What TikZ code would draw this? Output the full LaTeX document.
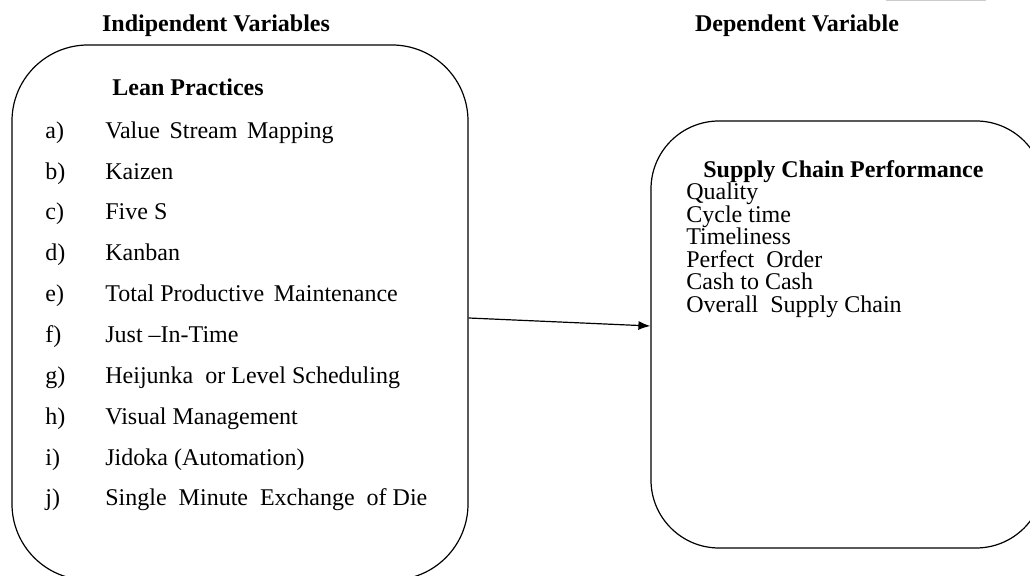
\documentclass[tikz,border=0pt]{standalone}
\usepackage{fontspec}
\setmainfont{Liberation Serif}
\usetikzlibrary{arrows.meta}
\tikzset{
  txt/.style={font=\fontsize{12}{14}\selectfont, inner sep=0pt},
  head/.style={txt, font=\fontsize{12}{14}\selectfont\bfseries},
  bigbox/.style={draw, line width=0.6pt}
}
\newcommand{\wsp}{\hspace{1.75pt}}
\begin{document}
\begin{tikzpicture}[x=0.5pt,y=-0.5pt]
            \useasboundingbox (0,0) rectangle (1030,576);
            \clip (0,0) rectangle (1030,576);
            \draw[gray!40, line width=0.8pt] (886,0.5) -- (986,0.5);
            % headings
            \node[head, anchor=base] (ivar) at (216,32) {Indipendent Variables};
            \node[head, anchor=base] (dvar) at (797,32) {Dependent Variable};
            % boxes
            \node[bigbox, minimum width=228pt, minimum height=267.5pt, rounded corners=38pt] (lean) at (240,312.5) {};
            \node[bigbox, minimum width=196.5pt, minimum height=213.5pt, rounded corners=34pt] (scp) at (847.5,334.5) {};
            % lean practices
            \node[head, anchor=base west] (leantitle) at (112,96) {Lean Practices};
            \node[txt, anchor=base west] (la) at (45,139) {a)};
            \node[txt, anchor=base west] (ta) at (105,139) {Value \wsp Stream \wsp Mapping};
            \node[txt, anchor=base west] (lb) at (45,180) {b)};
            \node[txt, anchor=base west] (tb) at (105,180) {Kaizen};
            \node[txt, anchor=base west] (lc) at (45,220) {c)};
            \node[txt, anchor=base west] (tc) at (105,220) {Five S};
            \node[txt, anchor=base west] (ld) at (45,261) {d)};
            \node[txt, anchor=base west] (td) at (105,261) {Kanban};
            \node[txt, anchor=base west] (le) at (45,302) {e)};
            \node[txt, anchor=base west] (te) at (105,302) {Total Productive \wsp Maintenance};
            \node[txt, anchor=base west] (lf) at (45,343) {f)};
            \node[txt, anchor=base west] (tf) at (105,343) {Just --In-Time};
            \node[txt, anchor=base west] (lg) at (45,384) {g)};
            \node[txt, anchor=base west] (tg) at (105,384) {Heijunka \ or Level Scheduling};
            \node[txt, anchor=base west] (lh) at (45,425) {h)};
            \node[txt, anchor=base west] (th) at (105,425) {Visual Management};
            \node[txt, anchor=base west] (li) at (45,466) {i)};
            \node[txt, anchor=base west] (ti) at (105,466) {Jidoka (Automation)};
            \node[txt, anchor=base west] (lj) at (45,506) {j)};
            \node[txt, anchor=base west] (tj) at (105,506) {Single \ Minute \ Exchange \ of Die};
            % supply chain performance
            \node[head, anchor=base west] (scptitle) at (703,178) {Supply Chain Performance};
            \node[txt, anchor=base west] (sa) at (686,200) {Quality};
            \node[txt, anchor=base west] (sb) at (686,223) {Cycle time};
            \node[txt, anchor=base west] (sc) at (686,245) {Timeliness};
            \node[txt, anchor=base west] (sd) at (686,268) {Perfect \ Order};
            \node[txt, anchor=base west] (se) at (686,290) {Cash to Cash};
            \node[txt, anchor=base west] (sf) at (686,313) {Overall \ Supply Chain};
            % link
            \draw[-{Latex[length=6pt,width=4.5pt]}, line width=0.6pt] ([yshift=-2.75pt]lean.east) -- ([yshift=4.25pt]scp.west);
        \end{tikzpicture}
\end{document}
